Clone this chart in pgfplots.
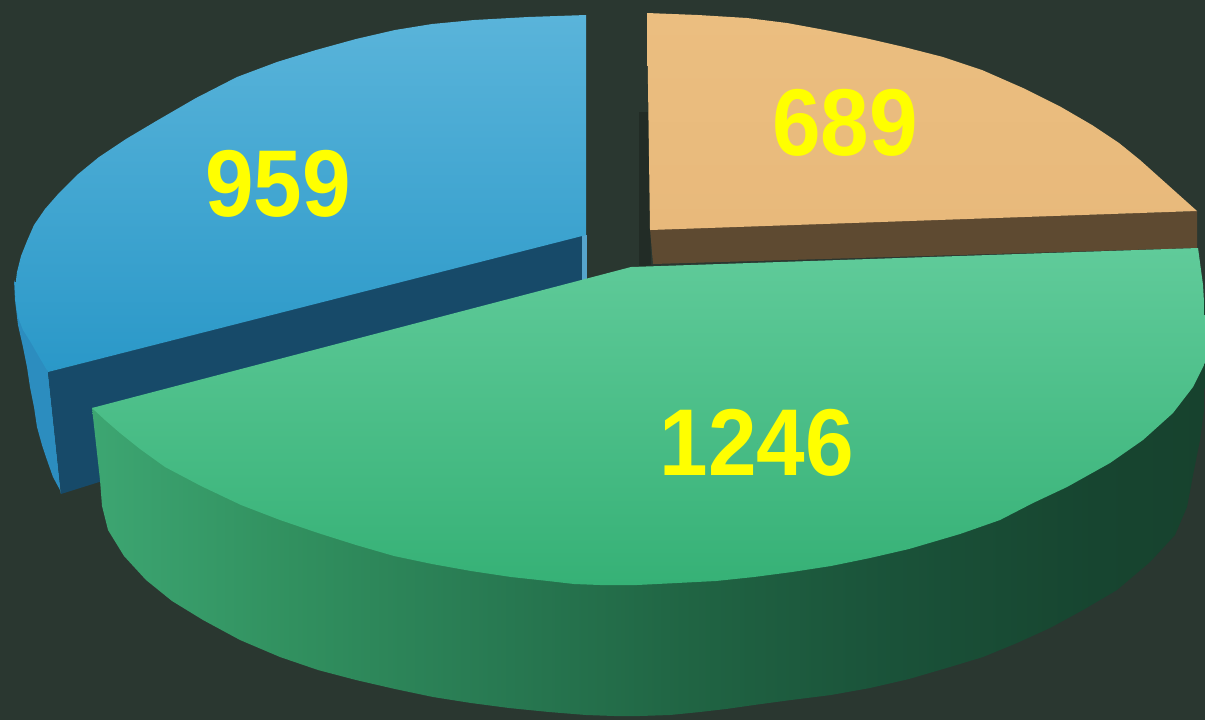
\documentclass[border=0pt]{standalone}
\usepackage{pgfplots}
\pgfplotsset{compat=1.18}
\usepackage{fontspec}
\setmainfont{Liberation Sans}

\definecolor{bg}{HTML}{2A3730}
\definecolor{orTop}{HTML}{EBBE80}
\definecolor{orTop2}{HTML}{E8B97B}
\definecolor{orCut}{HTML}{5E4A31}
\definecolor{blTop}{HTML}{5AB4DA}
\definecolor{blBot}{HTML}{2A98C8}
\definecolor{blCut}{HTML}{174A69}
\definecolor{blSide}{HTML}{2C8DBF}
\definecolor{grTop}{HTML}{60CB9A}
\definecolor{grBot}{HTML}{36B176}
\definecolor{shadow}{HTML}{222C26}
\definecolor{lbl}{HTML}{FFFF00}

% side of the green slice, light on the left, dark on the right
\pgfdeclarehorizontalshading{gside}{100bp}{%
  rgb(0bp)=(0.239,0.651,0.447); rgb(25bp)=(0.239,0.651,0.447);
  rgb(34bp)=(0.192,0.565,0.373); rgb(43bp)=(0.157,0.478,0.322);
  rgb(52bp)=(0.125,0.392,0.263); rgb(61bp)=(0.102,0.322,0.224);
  rgb(70bp)=(0.090,0.271,0.188); rgb(75bp)=(0.090,0.259,0.180);
  rgb(100bp)=(0.090,0.259,0.180)}

% slice values and where their labels sit
\pgfplotstableread{
x   y   v
845 123 689
278 184 959
757 443 1246
}\labels

\begin{document}
\begin{tikzpicture}
\begin{axis}[
    scale only axis,
    width=12.05cm, height=7.2cm,
    xmin=0, xmax=1205, ymin=0, ymax=720,
    y dir=reverse,
    hide axis,
]
% background
\addplot[draw=none, fill=bg] coordinates {(0,0) (1205,0) (1205,720) (0,720)};

% --- orange slice (689)
\addplot[draw=none, fill=shadow] coordinates {(639,112) (648,112) (651,265) (639,267)};
\addplot[draw=none, fill=orCut] coordinates {(650,229) (1197,211) (1197,248) (653,264)};
\addplot[draw=none, shade, top color=orTop, bottom color=orTop2]
  coordinates {(650,230) (647,13) (698,15) (747,18) (787,23) (825,30) (865,38)
               (904,47) (943,57) (982,70) (1023,88) (1061,107) (1092,125)
               (1119,143) (1140,160) (1159,177) (1178,194) (1197,211)};

% --- blue slice (959)
\addplot[draw=none, fill=blSide]
  coordinates {(48,372) (14,280) (15,300) (18,325) (23,347) (27,367) (30,387)
               (34,407) (37,427) (42,445) (47,460) (53,477) (60,490) (61,494)};
\addplot[draw=none, fill=blCut] coordinates {(48,372) (583,235) (583,330) (61,494)};
\addplot[draw=none, fill=blSide!80!white] coordinates {(582,235) (587,235) (587,300) (582,300)};
\addplot[draw=none, shade, top color=blTop, bottom color=blBot]
  coordinates {(48,372) (586,235) (586,15) (528,17) (474,20) (432,24) (395,30)
               (356,39) (316,50) (277,62) (237,77) (196,98) (158,120) (126,139)
               (99,157) (77,175) (59,193) (45,209) (34,225) (27,241) (21,256)
               (17,272) (15,288) (16,305) (18,317) (23,330) (30,341) (38,355)};

% --- green slice (1246)
\addplot[draw=none, shade, shading=gside]
  coordinates {(92,408) (100,480) (102,506) (108,530) (124,556) (146,580)
               (172,601) (203,620) (240,640) (280,657) (318,670) (356,680)
               (395,689) (433,697) (471,703) (509,708) (549,712) (586,715)
               (614,716) (640,716) (670,715) (700,712) (726,709) (754,705)
               (791,700) (831,695) (870,688) (909,679) (950,667) (983,657)
               (1017,643) (1050,628) (1083,610) (1117,590) (1150,562)
               (1175,535) (1187,507) (1193,475) (1200,440) (1204,410)
               (1205,380) (1205,300)};
\addplot[draw=none, shade, top color=grTop, bottom color=grBot]
  coordinates {(631,267) (1198,248) (1203,285) (1205,320) (1205,363) (1193,387)
               (1173,413) (1143,440) (1110,463) (1067,487) (1033,503) (1000,520)
               (960,534) (909,549) (870,558) (831,566) (792,572) (754,577)
               (716,581) (677,583) (637,585) (600,585) (574,584) (548,581)
               (511,577) (471,571) (432,564) (394,556) (356,545) (318,533)
               (280,520) (241,505) (201,486) (165,467) (140,449) (120,433)
               (105,420) (92,408)};

% --- value labels
\addplot[only marks, mark=*, mark size=0pt, mark options={draw=none, fill=none},
    point meta=explicit symbolic,
    nodes near coords,
    every node near coord/.append style={anchor=center, text=lbl, xscale=0.92,
        font=\fontsize{27}{27}\selectfont\bfseries},
] table[x=x, y=y, meta=v] {\labels};
\end{axis}
\end{tikzpicture}
\end{document}
